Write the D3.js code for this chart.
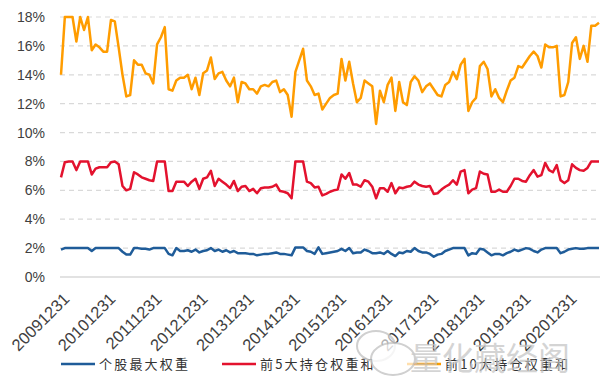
<!DOCTYPE html>
<html>
<head>
<meta charset="utf-8">
<script src="https://cdn.jsdelivr.net/npm/d3@7"></script>
<style>
  html, body { margin: 0; padding: 0; background: #fff; }
  svg { display: block; font-family: "Liberation Sans", Arial, sans-serif; }
</style>
</head>
<body>
<div id="chart"></div>
<script>
// 横轴标签（每12个月一个）
const tickLabels = ['20091231', '20101231', '20111231', '20121231', '20131231', '20141231',
  '20151231', '20161231', '20171231', '20181231', '20191231', '20201231'];

// 个股最大权重 (%)
const top1 = [1.9, 2.0, 2.0, 2.0, 2.0, 2.0, 2.0, 2.0, 1.8, 2.0, 2.0, 2.0, 2.0, 2.0, 2.0, 2.0,
  1.75, 1.55, 1.55, 2.0, 2.0, 1.95, 1.95, 1.9, 2.0, 2.0, 2.0, 2.0, 1.6, 1.5, 2.0, 1.8,
  1.8, 1.85, 1.75, 1.9, 1.7, 1.8, 1.85, 2.0, 1.8, 1.9, 1.75, 1.85, 1.7, 1.8, 1.65, 1.65,
  1.65, 1.6, 1.6, 1.5, 1.55, 1.6, 1.6, 1.65, 1.7, 1.6, 1.6, 1.55, 1.5, 2.05, 2.05, 2.05,
  1.8, 1.75, 1.6, 2.05, 1.6, 1.65, 1.7, 1.75, 1.8, 1.95, 1.8, 2.0, 1.65, 1.7, 1.7, 1.9,
  1.8, 1.65, 1.65, 1.7, 1.6, 1.8, 1.6, 1.45, 1.7, 1.65, 1.8, 1.75, 2.0, 1.8, 1.7, 1.7,
  1.6, 1.4, 1.55, 1.6, 1.8, 1.9, 2.0, 2.0, 2.0, 2.0, 1.5, 1.65, 1.6, 1.95, 1.9, 1.7,
  1.5, 1.6, 1.6, 1.5, 1.65, 1.75, 1.9, 1.8, 1.9, 2.0, 1.95, 1.8, 1.7, 1.9, 2.0, 2.0,
  2.0, 2.0, 1.65, 1.75, 1.9, 1.95, 2.0, 1.95, 1.95, 2.0, 2.0, 2.0, 2.0];

// 前5大持仓权重和 (%)
const top5 = [6.9, 7.95, 8.0, 8.0, 7.4, 8.0, 8.0, 8.0, 7.1, 7.5, 7.6, 7.6, 7.6, 7.95, 8.0, 7.8,
  6.3, 6.0, 6.1, 7.25, 7.1, 6.9, 6.8, 6.7, 6.65, 8.0, 8.0, 8.0, 5.95, 5.95, 6.6, 6.6,
  6.6, 6.3, 6.6, 6.8, 6.1, 6.8, 6.9, 7.35, 6.3, 6.8, 6.6, 6.4, 6.15, 6.65, 5.95, 6.25,
  6.3, 5.95, 6.1, 5.8, 6.15, 6.2, 6.2, 6.25, 6.4, 5.95, 5.9, 5.8, 5.45, 8.0, 8.0, 8.0,
  6.6, 6.5, 6.2, 6.25, 5.65, 5.75, 5.9, 6.0, 6.05, 7.1, 6.8, 7.2, 6.4, 6.4, 6.25, 6.7,
  6.6, 6.25, 5.45, 6.15, 6.15, 5.9, 6.5, 5.8, 6.2, 6.15, 6.25, 6.3, 6.6, 6.4, 6.3, 6.25,
  6.3, 5.75, 5.8, 6.05, 6.25, 6.4, 6.7, 6.4, 7.3, 7.4, 5.8, 6.05, 6.15, 7.3, 7.15, 7.1,
  5.9, 5.9, 6.05, 5.9, 5.9, 6.3, 6.8, 6.8, 6.65, 6.6, 7.05, 7.4, 6.95, 7.05, 7.9, 7.4,
  7.25, 7.75, 6.7, 6.5, 6.7, 7.8, 7.55, 7.4, 7.35, 7.55, 8.0, 8.0, 8.0];

// 前10大持仓权重和 (%)
const top10 = [14.0, 18.0, 18.0, 18.0, 16.3, 18.0, 17.1, 18.0, 15.7, 16.1, 15.9, 15.6, 15.6, 17.8, 17.7, 15.9,
  14.0, 12.5, 12.6, 15.0, 14.7, 14.7, 14.1, 14.0, 13.4, 16.1, 16.6, 17.3, 13.0, 12.9, 13.6, 13.8,
  13.8, 14.0, 13.0, 13.8, 12.6, 14.1, 14.3, 15.2, 13.7, 14.1, 14.2, 13.6, 13.2, 13.8, 12.1, 13.5,
  13.4, 13.0, 13.0, 12.7, 13.2, 13.3, 13.2, 13.5, 13.6, 12.8, 13.0, 12.6, 11.1, 14.2, 15.0, 15.8,
  13.6, 13.2, 12.6, 12.7, 11.6, 12.0, 12.4, 12.6, 12.7, 15.1, 13.6, 14.9, 13.4, 12.1, 12.4, 13.6,
  13.4, 13.2, 10.6, 12.9, 12.1, 13.3, 13.8, 11.5, 13.5, 12.1, 11.9, 13.5, 13.9, 13.6, 12.8, 13.2,
  13.4, 13.0, 12.6, 12.5, 13.3, 13.5, 14.2, 13.7, 14.7, 15.1, 11.5, 12.1, 12.4, 14.6, 14.9, 14.4,
  12.5, 13.0, 12.4, 12.1, 12.9, 13.6, 13.8, 14.6, 14.5, 14.9, 15.3, 15.6, 15.3, 14.5, 16.1, 15.9,
  15.9, 16.0, 12.5, 12.6, 13.5, 16.2, 16.6, 15.1, 16.0, 14.9, 17.4, 17.4, 17.6];

const yTicks = [0, 2, 4, 6, 8, 10, 12, 14, 16, 18];

const seriesList = [
  {name: '个股最大权重', values: top1, color: '#1f5c99'},
  {name: '前5大持仓权重和', values: top5, color: '#e3122e'},
  {name: '前10大持仓权重和', values: top10, color: '#ff9c00'}
];

const width = 606, height = 378;
const svg = d3.select('#chart').append('svg')
  .attr('width', width).attr('height', height);

const n = top10.length;
const x = d3.scaleLinear().domain([0, n - 1]).range([61, 599]);
const y = d3.scaleLinear().domain([0, 18]).range([277, 17]);

// 网格线
svg.append('g')
  .selectAll('line')
  .data(yTicks)
  .join('line')
  .attr('x1', 60).attr('x2', 600)
  .attr('y1', d => y(d)).attr('y2', d => y(d))
  .attr('stroke', '#d9d9d9')
  .attr('stroke-width', d => d === 0 ? 1.5 : 1.2)
  .attr('stroke-dasharray', d => d === 0 ? null : '5,4');

// 纵轴
const yAxis = svg.append('g')
  .attr('transform', 'translate(60,0)')
  .call(d3.axisLeft(y).tickValues(yTicks).tickFormat(d => d + '%').tickSize(0).tickPadding(15));
yAxis.select('.domain').remove();
yAxis.selectAll('text')
  .attr('font-size', 14)
  .attr('font-family', '"Liberation Sans", Arial, sans-serif')
  .attr('fill', '#404040');

// 横轴
const xAxis = svg.append('g')
  .attr('transform', 'translate(0,277)')
  .call(d3.axisBottom(x)
    .tickValues(tickLabels.map((d, i) => i * 12))
    .tickFormat((d, i) => tickLabels[i])
    .tickSize(0));
xAxis.select('.domain').remove();
xAxis.selectAll('text')
  .attr('font-size', 16.5)
  .attr('font-family', '"Liberation Sans", Arial, sans-serif')
  .attr('fill', '#404040')
  .attr('x', 0).attr('y', 0).attr('dy', 0)
  .attr('text-anchor', 'end')
  .attr('transform', 'translate(9,23) rotate(-45)');

// 折线
const line = d3.line()
  .x((d, i) => x(i))
  .y(d => y(d));

svg.append('g')
  .selectAll('path')
  .data(seriesList)
  .join('path')
  .attr('d', d => line(d.values))
  .attr('fill', 'none')
  .attr('stroke', d => d.color)
  .attr('stroke-width', 2.5)
  .attr('stroke-linejoin', 'round');

// 图例
const legendX = [61, 222, 407];
const legend = svg.append('g')
  .selectAll('g')
  .data(seriesList)
  .join('g')
  .attr('transform', (d, i) => `translate(${legendX[i]},364)`);
legend.append('line')
  .attr('x1', 0).attr('x2', 34)
  .attr('stroke', d => d.color)
  .attr('stroke-width', 2.5);
legend.append('text')
  .attr('x', 38).attr('y', 5)
  .attr('font-size', 13)
  .attr('letter-spacing', 2.2)
  .attr('font-family', '"Noto Sans CJK SC", sans-serif')
  .attr('fill', '#333')
  .text(d => d.name);

// 水印
const wm = svg.append('g').attr('opacity', 0.85);
wm.append('ellipse')
  .attr('cx', 376).attr('cy', 346).attr('rx', 19).attr('ry', 15)
  .attr('fill', '#fff').attr('fill-opacity', 0.7)
  .attr('stroke', '#c8c8c8').attr('stroke-width', 2);
wm.append('ellipse')
  .attr('cx', 393).attr('cy', 359).attr('rx', 22).attr('ry', 16)
  .attr('fill', '#fff').attr('fill-opacity', 0.8)
  .attr('stroke', '#c8c8c8').attr('stroke-width', 2);
wm.append('text')
  .attr('x', 410).attr('y', 370)
  .attr('font-size', 32)
  .attr('font-family', '"Noto Sans CJK SC", sans-serif')
  .attr('fill', '#c4c4c4')
  .attr('fill-opacity', 0.85)
  .text('量化藏经阁');
</script>
</body>
</html>
